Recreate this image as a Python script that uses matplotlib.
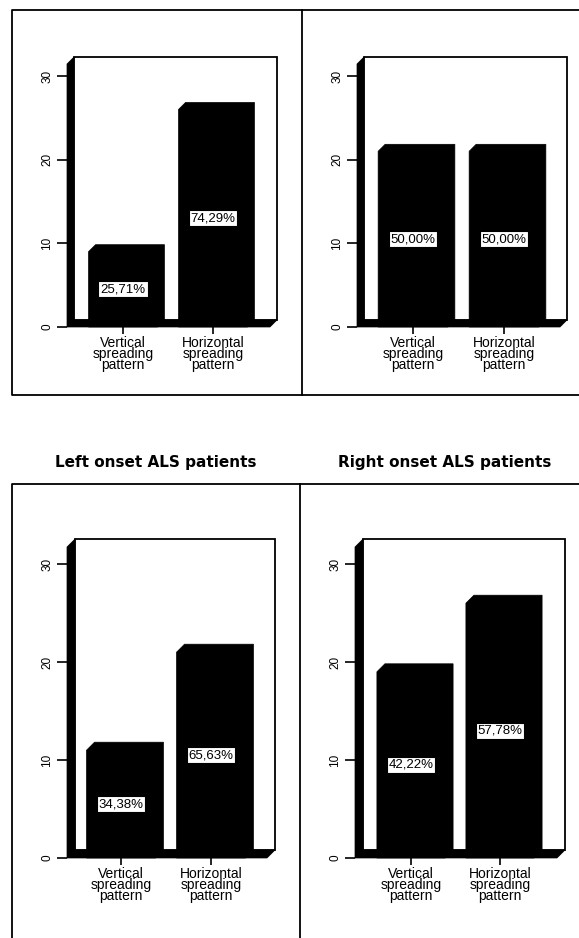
import matplotlib
matplotlib.use("Agg")
import matplotlib.pyplot as plt
from matplotlib.patches import Polygon, Rectangle

plt.rcParams["font.family"] = ["Liberation Sans", "DejaVu Sans"]

W, H = 579, 938

categories = ["Vertical\nspreading\npattern", "Horizontal\nspreading\npattern"]
titles = ["", "", "Left onset ALS patients", "Right onset ALS patients"]

# patient counts per spreading pattern
counts_a = [9, 26]
counts_b = [21, 21]
counts_left = [11, 21]
counts_right = [19, 26]

# percentages printed on the bars
pct_a = [25.71, 74.29]
pct_b = [50.00, 50.00]
pct_left = [34.38, 65.63]
pct_right = [42.22, 57.78]

yticks = [0, 10, 20, 30]

# pixel geometry: front-left x, back-right x, y of 0 and 30, category centres, depth, top of back wall
layout = [
    dict(xl=67, xr=277, y0=327, y30=76, cx=(123, 213), d=7, top=57),
    dict(xl=357, xr=567, y0=327, y30=76, cx=(413, 504), d=7, top=57),
    dict(xl=67, xr=275, y0=858, y30=564, cx=(121, 211), d=8, top=539),
    dict(xl=355, xr=565, y0=858, y30=564, cx=(411, 500), d=8, top=539),
]


def px_axes(fig, l, r, t, b):
    return fig.add_axes([l / W, 1 - b / H, (r - l) / W, (b - t) / H])


def draw_panel(fig, g, counts, pcts, title):
    s = g["cx"][1] - g["cx"][0]
    ppu = (g["y0"] - g["y30"]) / 30
    ax = px_axes(fig, g["xl"], g["xr"], g["top"], g["y0"])
    x0 = (g["xl"] - g["cx"][0]) / s
    x1 = 1 + (g["xr"] - g["cx"][1]) / s
    y1 = (g["y0"] - g["top"]) / ppu
    ax.set_xlim(x0, x1)
    ax.set_ylim(0, y1)
    ddx, ddy = g["d"] / s, g["d"] / ppu

    # back wall, left wall, floor
    ax.add_patch(Rectangle((x0 + ddx, ddy), x1 - x0 - ddx, y1 - ddy, fc="white",
                           ec="black", lw=1.3, clip_on=False, zorder=1))
    ax.add_patch(Polygon([(x0, 0), (x0, y1 - ddy), (x0 + ddx, y1), (x0 + ddx, ddy)],
                         closed=True, fc="black", ec="black", lw=0.5, clip_on=False, zorder=2))
    ax.add_patch(Polygon([(x0, 0), (x0 + ddx, ddy), (x1, ddy), (x1 - ddx, 0)],
                         closed=True, fc="black", ec="black", lw=0.5, clip_on=False, zorder=2))

    hw = 0.383
    for i, (v, p) in enumerate(zip(counts, pcts)):
        pts = [(i - hw, 0), (i - hw, v), (i - hw + ddx, v + ddy), (i + hw + ddx, v + ddy),
               (i + hw + ddx, ddy), (i + hw, 0)]
        ax.add_patch(Polygon(pts, closed=True, fc="black", ec="black", lw=0.5,
                             clip_on=False, zorder=3))
        ax.text(i, v / 2, f"{p:.2f}%".replace(".", ","), ha="center", va="center",
                fontsize=9.5, zorder=4,
                bbox=dict(boxstyle="square,pad=0.15", fc="white", ec="black", lw=0.8))

    for sp in ax.spines.values():
        sp.set_visible(False)
    ax.set_facecolor("none")
    ax.set_xticks([0, 1])
    ax.set_xticklabels(categories)
    for lbl in ax.get_xticklabels():
        lbl.set_linespacing(0.72)
    ax.tick_params(axis="x", length=5, width=1.2, pad=1.5, labelsize=10)
    ax.set_yticks(yticks)
    ax.tick_params(axis="y", length=7, width=1.2, pad=3, labelsize=8.5, labelrotation=90)
    for lbl in ax.get_yticklabels():
        lbl.set_va("center")

    if title:
        cx = (g["xl"] + g["xr"]) / 2 - 15
        fig.text(cx / W, 1 - 463 / H, title, ha="center", va="center",
                 fontsize=11, fontweight="bold", family="DejaVu Sans")


fig = plt.figure(figsize=(W / 100, H / 100), dpi=100)

# panel frames
frame = fig.add_axes([0, 0, 1, 1])
frame.set_xlim(0, W)
frame.set_ylim(H, 0)
frame.axis("off")
frame.plot([W, 12, 12, W], [10, 10, 395, 395], color="black", lw=1.3)
frame.plot([302, 302], [10, 395], color="black", lw=1.3)
frame.plot([W, 12, 12], [484, 484, H], color="black", lw=1.3)
frame.plot([300, 300], [484, H], color="black", lw=1.3)

for g, c, p, t in zip(layout, [counts_a, counts_b, counts_left, counts_right],
                      [pct_a, pct_b, pct_left, pct_right], titles):
    draw_panel(fig, g, c, p, t)

fig.savefig("out.png", dpi=100)
